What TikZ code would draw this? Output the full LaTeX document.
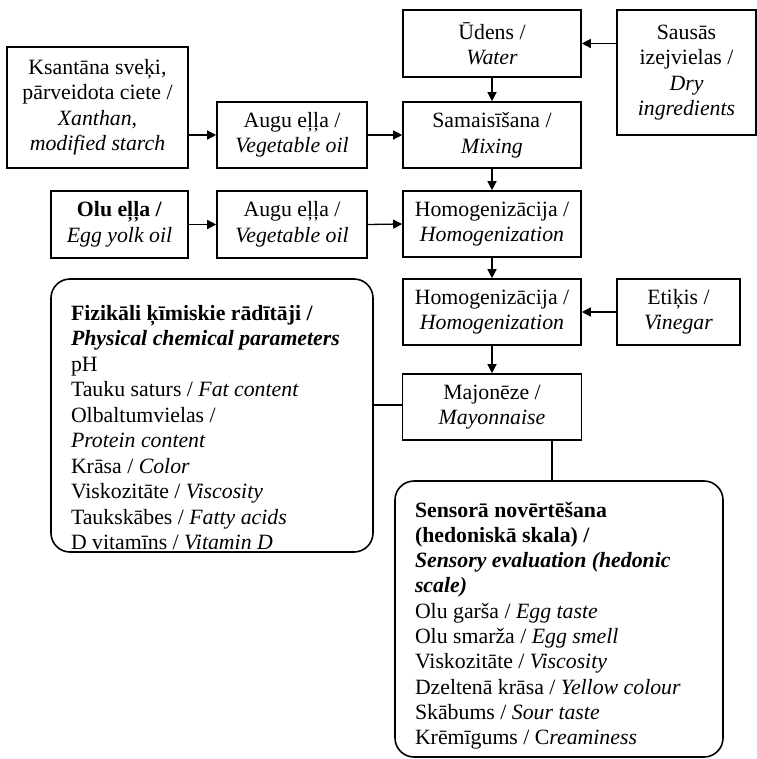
\documentclass[tikz,border=0pt]{standalone}
\usepackage{fontspec}
\setmainfont{Liberation Serif}
\usetikzlibrary{arrows.meta}
\begin{document}
\begin{tikzpicture}[x=1pt,y=-1pt,
  box/.style={draw,line width=1.6pt,align=center,inner sep=2pt,
    font=\fontsize{21.8}{25.5}\selectfont},
  rbox/.style={draw,line width=1.6pt,rounded corners=19pt,inner xsep=20pt,inner ysep=0pt,
    align=left},
  arr/.style={line width=1.3pt,-{Triangle[length=9pt,width=9pt]}},
  link/.style={line width=1.1pt}]
\useasboundingbox (0,0) rectangle (756,759);
\node[box,minimum width=181pt,minimum height=121pt] (ksan) at (97.5,107.5)
  {Ksantāna sveķi,\\pārveidota ciete /\\\textit{Xanthan},\\\textit{modified starch}};
\node[box,minimum width=150pt,minimum height=66pt] (augu1) at (292,135)
  {Augu eļļa /\\\textit{Vegetable oil}};
\node[box,minimum width=178pt,minimum height=67pt] (udens) at (492,43.5)
  {Ūdens /\\\textit{Water}};
\node[box,minimum width=139pt,minimum height=125pt] (sausas) at (686.5,72.5)
  {Sausās\\izejvielas /\\\textit{Dry}\\\textit{ingredients}};
\node[box,minimum width=178pt,minimum height=66pt] (mix) at (492,135)
  {Samaisīšana /\\\textit{Mixing}};
\node[box,minimum width=137pt,minimum height=67pt] (olu) at (119.5,224.5)
  {\textbf{Olu eļļa /}\\\textit{Egg yolk oil}};
\node[box,minimum width=150pt,minimum height=67pt] (augu2) at (292,224.5)
  {Augu eļļa /\\\textit{Vegetable oil}};
\node[box,minimum width=178pt,minimum height=66pt] (hom1) at (492,224)
  {Homogenizācija /\\\textit{Homogenization}};
\node[box,minimum width=178pt,minimum height=66pt] (hom2) at (492,312)
  {Homogenizācija /\\\textit{Homogenization}};
\node[box,minimum width=123pt,minimum height=66pt] (etikis) at (678.5,312)
  {Etiķis /\\\textit{Vinegar}};
\node[box,minimum width=179pt,minimum height=66pt] (major) at (492,407)
  {Majonēze /\\\textit{Mayonnaise}};
\node[rbox] (phys) at (212,415.5)
  {\parbox[c][273pt][t]{282pt}{\fontsize{21.8}{25.5}\selectfont
   \rule{0pt}{41pt}\textbf{Fizikāli ķīmiskie rādītāji /}\\
   \textbf{\textit{Physical chemical parameters}}\\
   pH\\
   Tauku saturs / \textit{Fat content}\\
   Olbaltumvielas /\\
   \textit{Protein content}\\
   Krāsa / \textit{Color}\\
   Viskozitāte / \textit{Viscosity}\\
   Taukskābes / \textit{Fatty acids}\\
   D vitamīns / \textit{Vitamin D}}};
\node[rbox] (sens) at (559,619)
  {\parbox[c][276pt][t]{288pt}{\fontsize{21.8}{25.3}\selectfont
   \rule{0pt}{36pt}\textbf{Sensorā novērtēšana}\\
   \textbf{(hedoniskā skala) /}\\
   \textbf{\textit{Sensory evaluation (hedonic}}\\
   \textbf{\textit{scale)}}\\
   Olu garša / \textit{Egg taste}\\
   Olu smarža / \textit{Egg smell}\\
   Viskozitāte / \textit{Viscosity}\\
   Dzeltenā krāsa / \textit{Yellow colour}\\
   Skābums / \textit{Sour taste}\\
   Krēmīgums / C\textit{reaminess}}};
\draw[arr] (ksan.east |- augu1.west) -- (augu1.west);
\draw[arr] (augu1.east) -- (mix.west);
\draw[arr] (olu.east |- augu2.west) -- (augu2.west);
\draw[arr] (augu2.east) -- (hom1.west);
\draw[arr] (sausas.west |- udens.east) -- (udens.east);
\draw[arr] (etikis.west |- hom2.east) -- (hom2.east);
\draw[arr] (udens.south) -- (mix.north);
\draw[arr] (mix.south) -- (hom1.north);
\draw[arr] (hom1.south) -- (hom2.north);
\draw[arr] (hom2.south) -- (major.north);
\draw[link] ([yshift=2pt]phys.east |- major.west) -- ([yshift=2pt]major.west);
\draw[link] ([xshift=-7pt]sens.north) -- ([xshift=-7pt]sens.north |- major.south);
\end{tikzpicture}
\end{document}
